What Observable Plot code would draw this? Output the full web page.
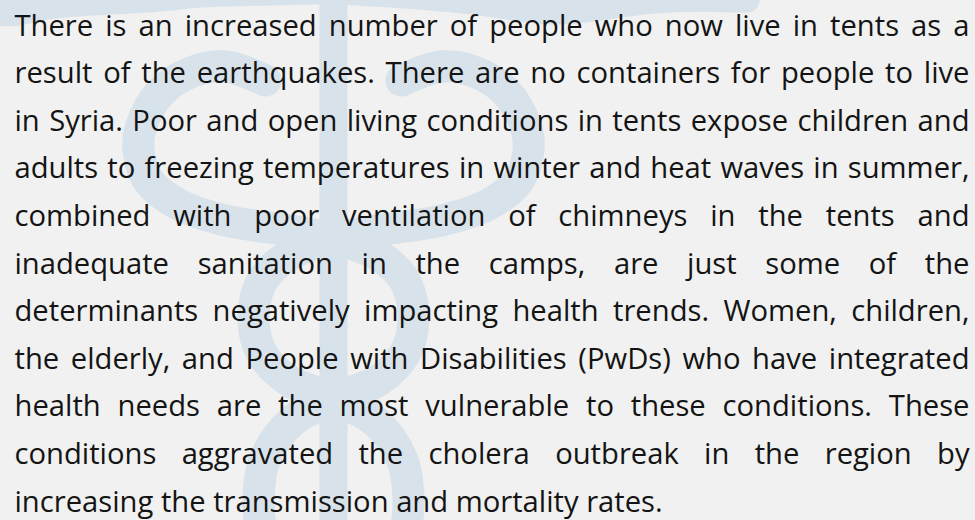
<!DOCTYPE html>
<html><head><meta charset="utf-8">
<script src="https://cdn.jsdelivr.net/npm/d3@7"></script>
<script src="https://cdn.jsdelivr.net/npm/@observablehq/plot@0.6"></script>
<style>html,body{margin:0;padding:0;background:#f0f1f0;overflow:hidden;}</style>
</head><body><div id="chart"></div>
<script>
// Paragraph text, one entry per rendered line
const lines = [
  "There is an increased number of people who now live in tents as a",
  "result of the earthquakes. There are no containers for people to live",
  "in Syria. Poor and open living conditions in tents expose children and",
  "adults to freezing temperatures in winter and heat waves in summer,",
  "combined with poor ventilation of chimneys in the tents and",
  "inadequate sanitation in the camps, are just some of the",
  "determinants negatively impacting health trends. Women, children,",
  "the elderly, and People with Disabilities (PwDs) who have integrated",
  "health needs are the most vulnerable to these conditions. These",
  "conditions aggravated the cholera outbreak in the region by",
  "increasing the transmission and mortality rates."
];

// Background caduceus (pixel space)
const staff = [{x: 333, y: -10}, {x: 333, y: 530}];
const wingLeft = [
  {x: -5, y: 26}, {x: 20, y: 27}, {x: 45, y: 19}, {x: 80, y: 16}, {x: 130, y: 14},
  {x: 170, y: 11}, {x: 200, y: 7}, {x: 250, y: 6}, {x: 290, y: 5}, {x: 333, y: 4}
];
const wingRight = [
  {x: 333, y: 4}, {x: 400, y: 8}, {x: 450, y: 12}, {x: 500, y: 18}, {x: 550, y: 27},
  {x: 600, y: 21}, {x: 650, y: 13}, {x: 700, y: 11}, {x: 740, y: 13}, {x: 757, y: 12}, {x: 760, y: 0}
];
const snakeLeft = [
  {x: 265, y: 80}, {x: 225, y: 66}, {x: 190, y: 72}, {x: 160, y: 92}, {x: 141, y: 125},
  {x: 138, y: 150}, {x: 148, y: 180}, {x: 178, y: 204}, {x: 225, y: 220}, {x: 290, y: 230},
  {x: 333, y: 238}, {x: 378, y: 255}, {x: 404, y: 280}, {x: 413, y: 315}, {x: 405, y: 352},
  {x: 378, y: 380}, {x: 333, y: 398}, {x: 290, y: 422}, {x: 264, y: 460}, {x: 258, y: 500}, {x: 262, y: 540}
];
const snakeRight = [
  {x: 401, y: 80}, {x: 441, y: 66}, {x: 476, y: 72}, {x: 506, y: 92}, {x: 525, y: 125},
  {x: 528, y: 150}, {x: 518, y: 180}, {x: 488, y: 204}, {x: 441, y: 220}, {x: 376, y: 230},
  {x: 333, y: 238}, {x: 288, y: 255}, {x: 262, y: 280}, {x: 253, y: 315}, {x: 261, y: 352},
  {x: 288, y: 380}, {x: 333, y: 398}, {x: 376, y: 422}, {x: 402, y: 460}, {x: 408, y: 500}, {x: 404, y: 540}
];
const heads = [{x: 222, y: 66}, {x: 444, y: 66}];

const W = 975, H = 520;
const FONT_SIZE = 29.2, FONT = "Open Sans";
const LEFT = 14, RIGHT = 969, FIRST_BASELINE = 35, LINE_HEIGHT = 47.6;
const BLUE = "#d8e2ea", INK = "#141414";

// Justified layout of the words
const ctx = document.createElement("canvas").getContext("2d");
ctx.font = `${FONT_SIZE}px "${FONT}"`;
const spaceW = ctx.measureText(" ").width;
const words = [];
lines.forEach((line, i) => {
  const ws = line.split(" ");
  const widths = ws.map(w => ctx.measureText(w).width);
  const total = d3.sum(widths);
  const justify = i < lines.length - 1 && ws.length > 1;
  const gap = justify ? (RIGHT - LEFT - total) / (ws.length - 1) : spaceW;
  let x = LEFT;
  ws.forEach((w, j) => {
    words.push({word: w, x, y: FIRST_BASELINE + i * LINE_HEIGHT});
    x += widths[j] + gap;
  });
});

const chart = Plot.plot({
  width: W, height: H,
  margin: 0,
  style: {background: "#f0f1f0"},
  x: {domain: [0, W], range: [0, W], axis: null},
  y: {domain: [0, H], range: [0, H], axis: null},
  marks: [
    Plot.areaY(wingLeft, {x: "x", y: "y", curve: "basis", fill: BLUE}),
    Plot.areaY(wingRight, {x: "x", y: "y", curve: "basis", fill: BLUE}),
    Plot.line(staff, {x: "x", y: "y", stroke: BLUE, strokeWidth: 28}),
    Plot.line(snakeLeft, {x: "x", y: "y", curve: "catmull-rom", stroke: BLUE, strokeWidth: 32, strokeLinecap: "round"}),
    Plot.line(snakeRight, {x: "x", y: "y", curve: "catmull-rom", stroke: BLUE, strokeWidth: 32, strokeLinecap: "round"}),
    Plot.dot(heads, {x: "x", y: "y", r: 16, fill: BLUE}),
    Plot.text(words, {x: "x", y: "y", text: "word", textAnchor: "start", lineAnchor: "bottom",
      fontFamily: FONT, fontSize: FONT_SIZE, fill: INK})
  ]
});
document.getElementById("chart").appendChild(chart);
</script>
</body></html>
